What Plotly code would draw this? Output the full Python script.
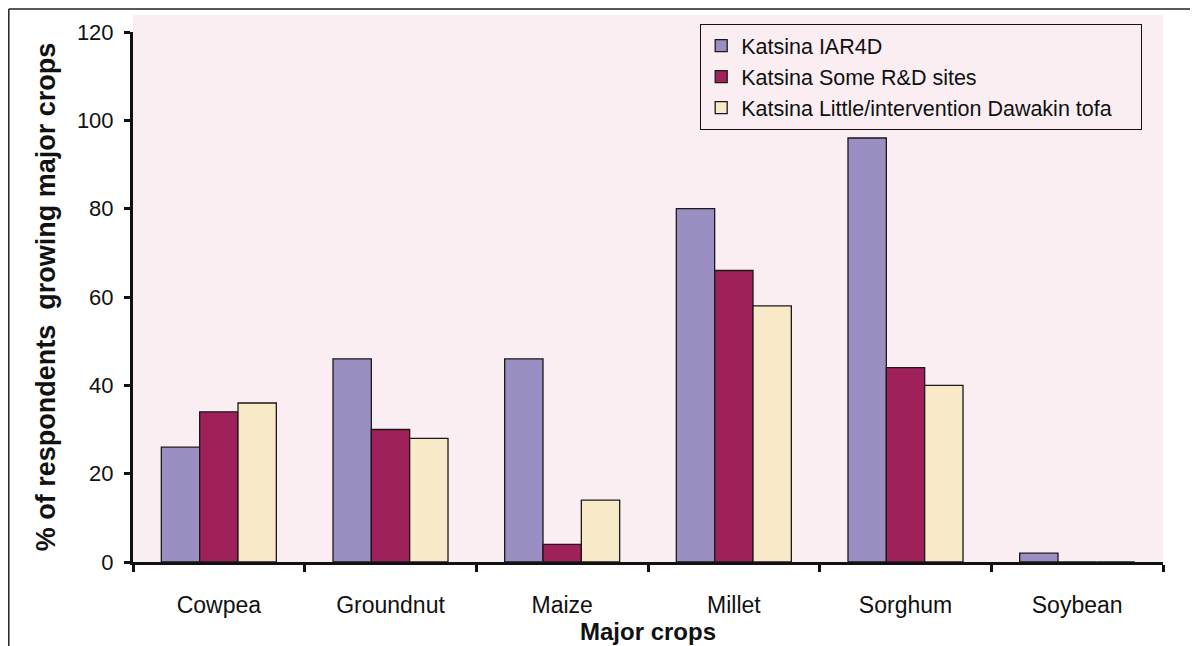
"""Share of respondents growing major crops, Katsina sites."""
import plotly.graph_objects as go

crops = ["Cowpea", "Groundnut", "Maize", "Millet", "Sorghum", "Soybean"]
iar4d = [26, 46, 46, 80, 96, 2]
some_rd = [34, 30, 4, 66, 44, 0]
little_int = [36, 28, 14, 58, 40, 0]
y_ticks = [0, 20, 40, 60, 80, 100, 120]

PINK = "#faeef2"
FONT = "Liberation Sans, Arial, sans-serif"
PAD = "\u00a0" * 4  # widen the legend box a little

fig = go.Figure()
series = [
    ("Katsina IAR4D", iar4d, "#9b8ec2"),
    ("Katsina Some R&D sites", some_rd, "#9e2159"),
    ("Katsina Little/intervention Dawakin tofa", little_int, "#f8e9c8"),
]
for name, vals, col in series:
    fig.add_trace(go.Bar(
        x=crops, y=vals, name=name + PAD,
        marker=dict(color=col, line=dict(color="#1a1a1a", width=1.3)),
    ))

# the page has an 8px body margin, so the figure sits at (8, 8)
OFF = 8
W, H = 1190, 638
L, R, T, B = 125, 35, 24, 81   # plot box in window px: x 133..1163, y 32..565
pw, ph = W - L - R, H - T - B


def px_x(p):
    return (p - OFF - L) / pw


def px_y(p):
    return (H - B - (p - OFF)) / ph


fig.update_layout(
    width=W, height=H,
    margin=dict(l=L, r=R, t=T, b=B),
    paper_bgcolor="white",
    plot_bgcolor="rgba(0,0,0,0)",
    barmode="group",
    bargap=0.33,
    bargroupgap=0,
    font=dict(family=FONT, color="#111111", size=21),
    showlegend=True,
    legend=dict(
        x=px_x(700), y=px_y(24), xanchor="left", yanchor="top",
        bgcolor=PINK, bordercolor="#111111", borderwidth=1.2,
        font=dict(size=21.5, family=FONT, color="#111111"),
    ),
    xaxis=dict(
        showline=True, linecolor="#111111", linewidth=3,
        ticks="outside", tickson="boundaries", ticklen=7, tickwidth=2.5,
        tickcolor="#111111", showgrid=False,
        tickfont=dict(size=23), ticklabelstandoff=20,
        title=dict(text="<b>Major crops</b>", font=dict(size=24), standoff=0),
    ),
    yaxis=dict(
        range=[0, 120], tickvals=y_ticks,
        showline=True, linecolor="#111111", linewidth=3,
        ticks="outside", ticklen=6, tickwidth=2.5, tickcolor="#111111",
        showgrid=False, zeroline=False,
        tickfont=dict(size=22), ticklabelstandoff=6,
        title=dict(text="<b>% of respondents  growing major crops</b>",
                   font=dict(size=27), standoff=14),
    ),
    shapes=[
        dict(type="rect", xref="paper", yref="paper", layer="below",
             x0=0, x1=1, y0=0, y1=px_y(15),
             fillcolor=PINK, line=dict(width=0)),
        dict(type="line", xref="paper", yref="paper",
             x0=px_x(8.8), x1=px_x(8.8), y0=px_y(660), y1=px_y(8.8),
             line=dict(color="#222222", width=1.5)),
        dict(type="line", xref="paper", yref="paper",
             x0=px_x(8.8), x1=px_x(1210), y0=px_y(8.8), y1=px_y(8.8),
             line=dict(color="#222222", width=1.5)),
    ],
)

fig.write_html("out.html")
